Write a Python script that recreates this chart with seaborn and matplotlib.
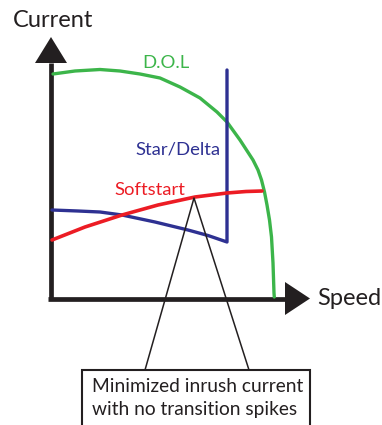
import matplotlib
matplotlib.use("Agg")
import matplotlib.pyplot as plt
from matplotlib.patches import Rectangle
import seaborn as sns

# ---------------- data (speed / current, arbitrary units, origin at axes corner) ----------------
dol_speed = [2, 24, 49, 69, 89, 109, 129, 149, 166, 176, 189, 202, 207, 210.5, 213.5,
             216, 218.5, 220.5, 222, 223, 223.3]
dol_current = [224.5, 227.5, 229, 227.5, 224.5, 220.5, 211.5, 200.5, 186.5, 176.5, 158.5,
               138.5, 128.5, 118.5, 106.5, 93.5, 78.5, 61.5, 35.5, 5.5, 1.5]

star_speed = [1, 27, 49, 71, 104, 137, 157, 176, 176]
star_current = [88.5, 87.5, 86.5, 83.5, 76.5, 68.5, 63, 56.5, 228.5]

soft_speed = [1, 34, 71, 107, 144, 176, 195, 211]
soft_current = [58.5, 71.5, 83.5, 93.5, 101.5, 105.5, 107, 107.5]

callout_speed = [94, 143, 198]
callout_current = [-71.5, 100.5, -71.5]

labels = ["D.O.L", "Star/Delta", "Softstart"]
note_lines = ["Minimized inrush current", "with no transition spikes"]

GREEN = "#3cb54a"
BLUE = "#2e3192"
RED = "#ec1c24"
BLACK = "#231f20"

# ---------------- figure ----------------
sns.set_style("white")
plt.rcParams["font.family"] = ["Lato", "DejaVu Sans"]

fig = plt.figure(figsize=(3.82, 4.25), dpi=100)
ax = fig.add_axes([0, 0, 1, 1])
ax.set_xlim(-51, 331)
ax.set_ylim(-126.5, 298.5)
ax.axis("off")

# axes with arrow heads
ax.plot([0, 0], [-1.5, 236], color=BLACK, lw=3.4, solid_capstyle="butt")
ax.fill([-16, 16, 0], [235.5, 235.5, 261.5], color=BLACK, lw=0)
ax.plot([-3, 234], [0, 0], color=BLACK, lw=3.4, solid_capstyle="butt")
ax.fill([234, 234, 259], [16.5, -16.5, 0], color=BLACK, lw=0)

# curves
sns.lineplot(x=dol_speed, y=dol_current, color=GREEN, lw=2.4, sort=False, estimator=None, ax=ax)
sns.lineplot(x=star_speed, y=star_current, color=BLUE, lw=2.4, sort=False, estimator=None, ax=ax)
sns.lineplot(x=soft_speed, y=soft_current, color=RED, lw=2.6, sort=False, estimator=None, ax=ax)

# callout
sns.lineplot(x=callout_speed, y=callout_current, color=BLACK, lw=1.1, sort=False, estimator=None, ax=ax)
ax.add_patch(Rectangle((31, -140), 228, 68.5, fill=True, facecolor="white",
                       edgecolor=BLACK, lw=1.5, zorder=5))

# text
ax.text(-38, 271.5, "Current", fontsize=17, color=BLACK, va="baseline", ha="left")
ax.text(266, -6.5, "Speed", fontsize=17, color=BLACK, va="baseline", ha="left")
ax.text(91, 230.5, labels[0], fontsize=13.3, color=GREEN, va="baseline", ha="left")
ax.text(84, 144.5, labels[1], fontsize=13.3, color=BLUE, va="baseline", ha="left")
ax.text(63, 103.5, labels[2], fontsize=13.3, color=RED, va="baseline", ha="left")
ax.text(41, -93.5, note_lines[0], fontsize=13.8, color=BLACK, va="baseline", ha="left", zorder=6)
ax.text(41, -116.5, note_lines[1], fontsize=13.8, color=BLACK, va="baseline", ha="left", zorder=6)

fig.savefig("out.png", dpi=100)
